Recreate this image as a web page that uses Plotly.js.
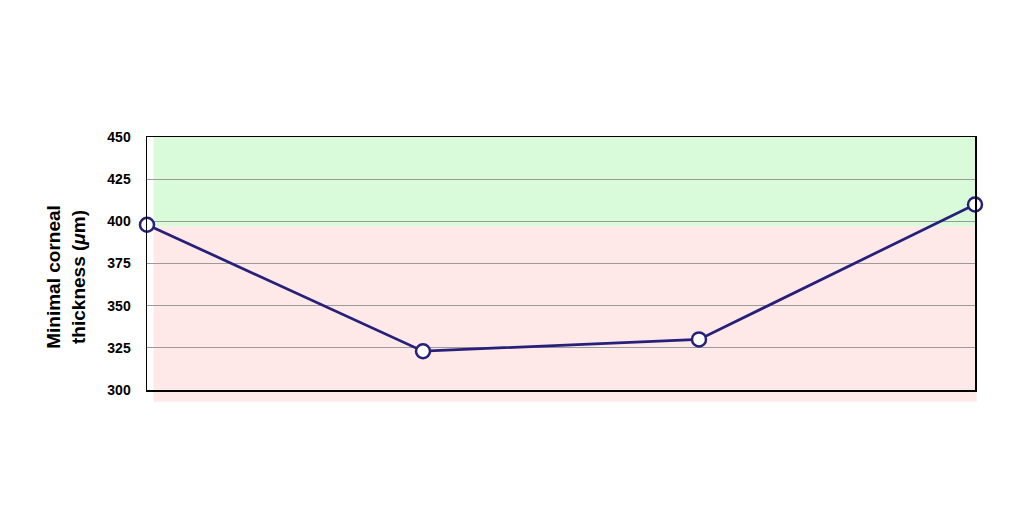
<!DOCTYPE html>
<html><head><meta charset="utf-8">
<script src="https://cdn.plot.ly/plotly-3.0.1.min.js"></script>
<style>body{margin:0;background:#fff}#chart{width:1024px;height:512px}</style>
</head><body><div id="chart"></div>
<script>
const visits = ["V1", "V2", "V3", "V4"];
const thickness = [398, 323, 330, 410];
const threshold = 397;
const yTicks = [300, 325, 350, 375, 400, 425, 450];
const yRange = [300, 450];

function toPaper(v) { return (v - yRange[0]) / (yRange[1] - yRange[0]); }

const trace = {
  x: visits, y: thickness, type: 'scatter', mode: 'lines+markers',
  line: {color: '#27207a', width: 2.75},
  marker: {size: 14, color: '#ffffff', line: {color: '#27207a', width: 2.5}},
  cliponaxis: false, hoverinfo: 'none'
};
const layout = {
  width: 1024, height: 512,
  margin: {l: 147, r: 49, t: 137, b: 122},
  paper_bgcolor: '#ffffff', plot_bgcolor: 'rgba(0,0,0,0)',
  showlegend: false,
  font: {family: 'Liberation Sans, Arial, sans-serif', color: '#000'},
  xaxis: {range: [0, 3], showticklabels: false, ticks: '', showgrid: false, zeroline: false,
    showline: true, linecolor: '#000', linewidth: 1.5, mirror: true},
  yaxis: {range: yRange, tickvals: yTicks, ticks: '', showgrid: true, gridcolor: '#9a9a9a', gridwidth: 1,
    zeroline: false, showline: true, linecolor: '#000', linewidth: 1.5, mirror: true,
    ticklabelstandoff: 12,
    tickfont: {size: 14, family: 'Liberation Sans, Arial, sans-serif', weight: 'bold'}},
  annotations: [{
    text: '<b>Minimal corneal<br>thickness (<i>μ</i>m)</b>', textangle: -90,
    xref: 'paper', yref: 'paper', x: -0.098, y: 0.447, xanchor: 'center', yanchor: 'middle',
    showarrow: false, font: {size: 19, color: '#000'}
  }],
  shapes: [
    {type: 'rect', layer: 'below', xref: 'paper', yref: 'paper', x0: 0.008, x1: 1.002, y0: toPaper(threshold), y1: 1,
      fillcolor: '#d9fbd9', line: {width: 0}},
    {type: 'rect', layer: 'below', xref: 'paper', yref: 'paper', x0: 0.008, x1: 1.002, y0: toPaper(293), y1: toPaper(threshold),
      fillcolor: '#fee8e8', line: {width: 0}}
  ]
};
Plotly.newPlot('chart', [trace], layout, {displayModeBar: false, staticPlot: true});
</script></body></html>
